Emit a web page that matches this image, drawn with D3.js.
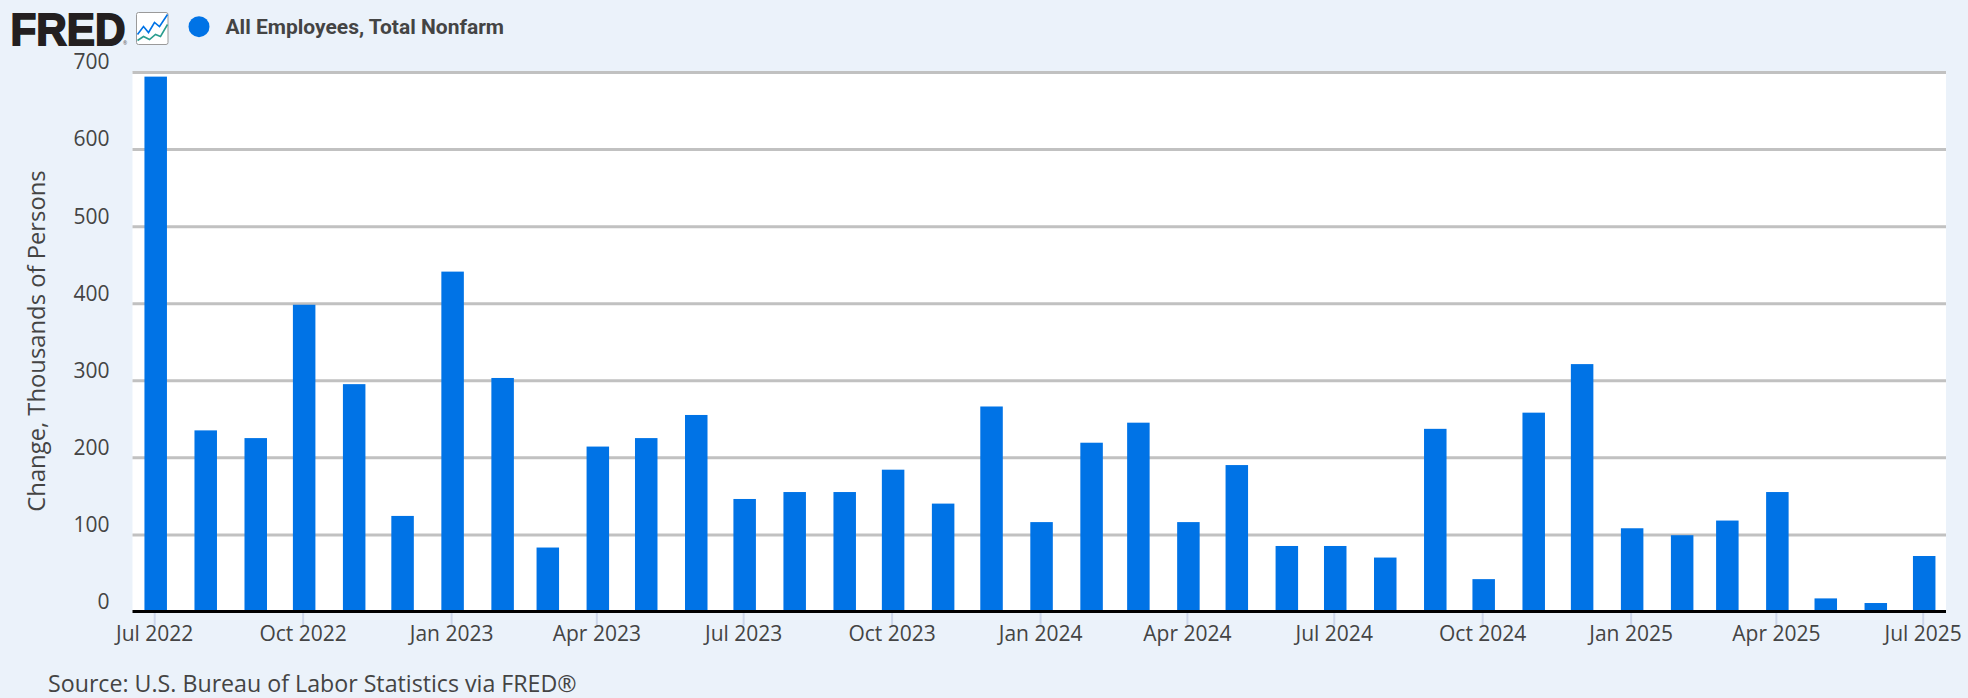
<!DOCTYPE html>
<html>
<head>
<meta charset="utf-8">
<script src="https://cdn.jsdelivr.net/npm/d3@7"></script>
<style>
  html, body { margin: 0; padding: 0; background: #ebf2fa; overflow: hidden; }
  svg { display: block; }
  text { fill: #444; font-family: "Open Sans", sans-serif; }
</style>
</head>
<body>
<script>
const months = d3.utcMonth.range(new Date(Date.UTC(2022, 6, 1)), new Date(Date.UTC(2025, 7, 1)));

// change in thousands of persons, Jul 2022 .. Jul 2025
const values = [
    694, 235, 225, 398, 295, 124, 441, 303, 83, 214, 225, 255,
    146, 155, 155, 184, 140, 266, 116, 219, 245, 116, 190, 85,
    85, 70, 237, 42, 258, 321, 108, 99, 118, 155, 17, 11, 72
];

const yTicks = [0, 100, 200, 300, 400, 500, 600, 700];
const xTickDates = [
    [2022, 6], [2022, 9], [2023, 0], [2023, 3], [2023, 6], [2023, 9], [2024, 0],
    [2024, 3], [2024, 6], [2024, 9], [2025, 0], [2025, 3], [2025, 6]
].map(d => new Date(Date.UTC(d[0], d[1], 1)));

const seriesName = 'All Employees, Total Nonfarm';
const yTitle = 'Change, Thousands of Persons';
const sourceText = 'Source: U.S. Bureau of Labor Statistics via FRED®';

const box = {
    'width' : 1968,
    'height' : 698,
    'left' : 132.5,
    'right' : 1946,
    'top' : 72,
    'bottom' : 611.5,
};
const barWidth = 22.5;
const barColor = '#0073e6';

const svg = d3.select('body').append('svg')
    .attr('width', box.width)
    .attr('height', box.height);

const x = d3.scaleUtc()
    .domain([xTickDates[0], xTickDates[xTickDates.length - 1]])
    .range([154.2, 1922.7]);

const y = d3.scaleLinear()
    .domain([0, 700])
    .range([box.bottom, box.top]);

// plot background
svg.append('rect')
    .attr('x', box.left)
    .attr('y', box.top)
    .attr('width', box.right - box.left)
    .attr('height', box.bottom - box.top)
    .attr('fill', '#fff');

// y axis, ticks are the grid lines
const yAxis = d3.axisLeft(y)
    .tickValues(yTicks)
    .tickSize(-(box.right - box.left))
    .tickPadding(23);

const yg = svg.append('g')
    .attr('transform', 'translate(' + box.left + ',0)')
    .call(yAxis);
yg.select('.domain').remove();
yg.selectAll('line').attr('stroke', '#c1c1c1').attr('stroke-width', 3);
yg.selectAll('text')
    .attr('dy', '-0.15em')
    .style('font-size', '21px')
    .style('font-family', '"Open Sans", sans-serif')
    .style('fill', '#444');
yg.selectAll('.tick').filter(d => d === 0).select('line').remove();

// x axis
const xAxis = d3.axisBottom(x)
    .tickValues(xTickDates)
    .tickSize(14)
    .tickSizeOuter(0)
    .tickPadding(1)
    .tickFormat(d3.utcFormat('%b %Y'));

const xg = svg.append('g')
    .attr('transform', 'translate(0,' + box.bottom + ')')
    .call(xAxis);
xg.select('.domain').remove();
xg.selectAll('line').attr('stroke', '#ccd6eb').attr('stroke-width', 2);
xg.selectAll('text')
    .style('font-size', '21px')
    .style('font-family', '"Open Sans", sans-serif')
    .style('fill', '#444');

// bars
svg.append('g')
    .selectAll('rect')
    .data(values)
    .enter()
    .append('rect')
    .attr('x', (_, i) => x(months[i]) + 1.5 - barWidth / 2)
    .attr('y', d => y(d))
    .attr('width', barWidth)
    .attr('height', d => y(0) - y(d))
    .attr('fill', barColor);

// zero line goes over the bars
svg.append('line')
    .attr('x1', box.left)
    .attr('x2', box.right)
    .attr('y1', y(0))
    .attr('y2', y(0))
    .attr('stroke', '#000')
    .attr('stroke-width', 3);

// y title
svg.append('text')
    .attr('transform', 'translate(45,341) rotate(-90)')
    .attr('text-anchor', 'middle')
    .style('font-size', '23.8px')
    .text(yTitle);

// source
svg.append('text')
    .attr('x', 48)
    .attr('y', 691.5)
    .style('font-size', '23.2px')
    .text(sourceText);

// legend
svg.append('circle')
    .attr('cx', 199)
    .attr('cy', 26.7)
    .attr('r', 10.5)
    .attr('fill', barColor);

svg.append('text')
    .attr('x', 225.5)
    .attr('y', 34)
    .style('font-family', 'Roboto, sans-serif')
    .style('font-weight', 700)
    .style('font-size', '21px')
    .text(seriesName);

// FRED logo
svg.append('text')
    .attr('x', 10.5)
    .attr('y', 44.5)
    .attr('textLength', 115)
    .attr('lengthAdjust', 'spacingAndGlyphs')
    .style('font-family', '"Liberation Sans", sans-serif')
    .style('font-weight', 700)
    .style('font-size', '45px')
    .style('fill', '#231f20')
    .style('stroke', '#231f20')
    .style('stroke-width', 1.8)
    .text('FRED');

svg.append('text')
    .attr('x', 123)
    .attr('y', 45)
    .style('font-size', '5px')
    .style('fill', '#555')
    .text('®');

// small chart icon next to the logo
const icon = svg.append('g').attr('transform', 'translate(136.5,12.5)');
icon.append('rect')
    .attr('x', 0)
    .attr('y', 0)
    .attr('width', 31.5)
    .attr('height', 32)
    .attr('rx', 2)
    .attr('fill', '#fff')
    .attr('stroke', '#9a9a9a')
    .attr('stroke-width', 1);

const iconBlue = [[1, 22], [7, 14], [12, 20], [18, 10], [23, 14], [31, 2]];
const iconGreen = [[1, 28], [7, 24], [13, 27], [19, 22], [24, 24], [31, 12]];
const iconLine = d3.line();
icon.append('path').attr('d', iconLine(iconBlue)).attr('fill', 'none').attr('stroke', '#0073e6').attr('stroke-width', 1.6);
icon.append('path').attr('d', iconLine(iconGreen)).attr('fill', 'none').attr('stroke', '#2a9d8f').attr('stroke-width', 1.6);
</script>
</body>
</html>
